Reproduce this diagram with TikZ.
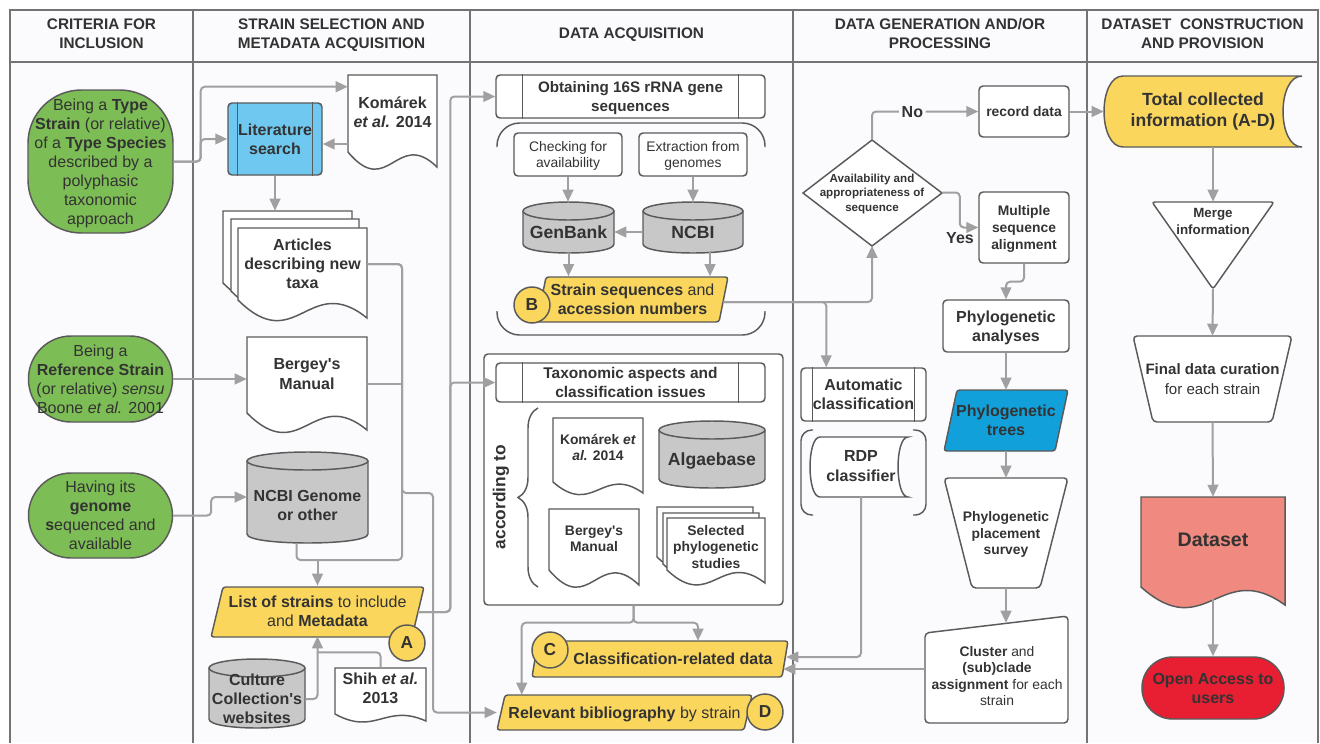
\documentclass[tikz,border=0pt]{standalone}
\usepackage{fontspec}
\setmainfont{Liberation Sans}
\usetikzlibrary{arrows.meta,calc,decorations.pathreplacing}

\definecolor{ink}{RGB}{51,51,51}
\definecolor{edge}{RGB}{90,90,90}
\definecolor{wire}{RGB}{160,160,160}
\definecolor{paper}{RGB}{251,251,253}
\definecolor{frameline}{RGB}{115,115,115}
\definecolor{critgreen}{RGB}{125,189,85}
\definecolor{note}{RGB}{250,214,92}
\definecolor{search}{RGB}{110,200,240}
\definecolor{treeblue}{RGB}{18,160,218}
\definecolor{dbgray}{RGB}{200,200,200}
\definecolor{dsetred}{RGB}{240,137,127}
\definecolor{openred}{RGB}{232,30,50}

% page with a wavy foot: top left (#2,#3), bottom right (#4,#5), wave depth #6
\newcommand{\docshape}[6][white]{%
  \draw[shapeline,fill=#1] (#2,#3) -- (#4,#3) -- (#4,#5)
    .. controls ({#2+0.55*(#4-#2)},{#5-2.6*#6}) and ({#2+0.45*(#4-#2)},{#5+2.2*#6}) .. (#2,{#5-#6}) -- cycle;}
% can: top left (#2,#3), bottom right (#4,#5)
\newcommand{\cylshape}[5][dbgray]{%
  \draw[shapeline,fill=#1] (#2,{#3+9}) -- (#2,{#5-9}) .. controls (#2,{#5+3}) and (#4,{#5+3}) .. (#4,{#5-9}) -- (#4,{#3+9});
  \draw[shapeline,fill=#1] ({(#2+#4)/2},{#3+9}) ellipse [x radius={(#4-#2)/2}, y radius=9];}
% slanted box: left (#2), top (#3), right (#4), bottom (#5), slant #6
\newcommand{\parashape}[6][note]{%
  \draw[shapeline,fill=#1,rounded corners=2pt] ({#2+#6},#3) -- (#4,#3) -- ({#4-#6},#5) -- (#2,#5) -- cycle;}

\begin{document}
\begin{tikzpicture}[x=0.75pt,y=0.75pt,yscale=-1,xscale=1,
  fnt/.style 2 args={font=\bfseries\fontsize{#1}{#2}\selectfont},
  plainfnt/.style 2 args={font=\fontsize{#1}{#2}\selectfont},
  sz/.style 2 args={minimum width=#1*0.75pt, minimum height=#2*0.75pt},
  lbl/.style={inner sep=0pt, text depth=0pt, align=center, text=ink, fnt={12}{14.3}},
  hd/.style={lbl, fnt={11.5}{14.3}},
  shapeline/.style={draw=edge, line width=1.1pt},
  box/.style={shapeline, fill=white, rounded corners=3pt},
  critbox/.style={shapeline, fill=critgreen},
  circ/.style={circle, shapeline, fill=note, minimum size=27pt, inner sep=0pt, text=ink, fnt={13}{15}},
  conn/.style={draw=wire, line width=1.5pt, rounded corners=3pt},
  arr/.style={conn, -{Triangle[length=9pt,width=8pt]}}]
\useasboundingbox (0,0) rectangle (1320,743);

%Swimlanes
\fill[paper] (10,10) rectangle (1318,743);
\draw[frameline, line width=1.1pt] (10,743) -- (10,10) -- (1318,10) -- (1318,743);
\draw[frameline, line width=1.1pt] (10,62) -- (1318,62);
\foreach \x in {193,470,793,1087} \draw[frameline, line width=1.1pt] (\x,10) -- (\x,743);

% Text Node
\node[hd] (hcrit) at (101.5,33.5) {CRITERIA FOR\\INCLUSION};
\node[hd] (hstrain) at (331.5,33.5) {STRAIN SELECTION AND\\METADATA ACQUISITION};
\node[hd] (hacq) at (631.5,33.5) {DATA ACQUISITION};
\node[hd] (hgen) at (940,33.5) {DATA GENERATION AND/OR\\PROCESSING};
\node[hd] (hset) at (1202.5,33.5) {DATASET\ \ CONSTRUCTION\\AND PROVISION};

%Criteria
\node[lbl, plainfnt={12}{14.3}, critbox, rounded corners=40pt, sz={145}{143}] (crit1) at (100.5,161.5)
  {Being a \textbf{Type}\\\textbf{Strain} (or relative)\\of a \textbf{Type Species}\\described by a\\polyphasic\\taxonomic\\approach};
\node[lbl, plainfnt={12}{14.3}, critbox, rounded corners=32pt, sz={144}{86}] (crit2) at (100.5,379)
  {Being a\\\textbf{Reference Strain}\\(or relative) \textit{sensu}\\Boone \textit{et al.} 2001};
\node[lbl, plainfnt={12}{14.3}, critbox, rounded corners=32pt, sz={144}{85}] (crit3) at (100.5,515.5)
  {Having its\\\textbf{genome}\\\textbf{s}equenced and\\available};

%Strain selection
\node[lbl, box, fill=search, sz={94}{72}] (lit) at (275,139) {Literature\\search};
\docshape{348}{75}{437}{167}{15}
\node[lbl, sz={89}{74}] (komarek) at (392.5,112) {Komárek\\\textit{et al.} 2014};
%Shape: Multiple documents
\docshape{223}{211}{352}{301}{18}
\docshape{231}{219}{359}{309}{18}
\docshape{238}{228}{367}{318}{18}
\node[lbl, sz={129}{72}] (articles) at (302.5,264) {Articles\\describing new\\taxa};
\docshape{247}{337}{367}{430}{17}
\node[lbl, sz={120}{74}] (bergey) at (307,374) {Bergey\textquotesingle s\\Manual};
\cylshape{247}{452}{368}{543}
\node[lbl, sz={121}{76}] (ncbig) at (307.5,505) {NCBI Genome\\or other};
\parashape{211}{587}{424}{637}{12}
\node[lbl, plainfnt={12}{14.3}, sz={213}{50}] (list) at (317.5,611) {\textbf{List of strains} to include\\and \textbf{Metadata}};
\node[circ] (circA) at (407,643) {A};
\cylshape{209}{659}{305}{728}
\node[lbl, sz={96}{58}] (culture) at (257,699) {Culture\\Collection\textquotesingle s\\websites};
\docshape{335}{668}{426}{721}{7}
\node[lbl, sz={91}{40}] (shih) at (380.5,688) {Shih \textit{et al.}\\2013};

%Data acquisition
\node[lbl, box, fnt={11.4}{14.2}, sz={269}{43}] (obtain) at (630.5,96.5) {Obtaining 16S rRNA gene\\sequences};
\draw[shapeline, rounded corners=17pt] (497,147) -- (497,123) -- (765,123) -- (765,147);
\draw[shapeline, rounded corners=17pt] (497,311) -- (497,335) -- (765,335) -- (765,311);
\node[lbl, box, plainfnt={10.4}{12.2}, sz={108}{43}] (check) at (568,154.5) {Checking for\\availability};
\node[lbl, box, plainfnt={10.4}{12.2}, sz={108}{43}] (extract) at (693,154.5) {Extraction from\\genomes};
\cylshape{523}{202}{614}{253}
\node[lbl, fnt={13.2}{15.7}, sz={91}{42}] (genbank) at (568.5,232) {GenBank};
\cylshape{643}{202}{743}{253}
\node[lbl, fnt={13.2}{15.7}, sz={100}{42}] (ncbi) at (693,232) {NCBI};
\parashape{537}{277}{728}{322}{9}
\node[lbl, plainfnt={12}{14.3}, sz={191}{45}] (strain) at (632.5,299) {\textbf{Strain sequences} and\\\textbf{accession numbers}};
\node[circ] (circB) at (532,305) {B};

\node[box, sz={299}{251}] (taxgroup) at (633.5,479.5) {};
\node[lbl, box, fnt={11.6}{14.2}, sz={269}{39}] (taxo) at (630.5,382.5) {Taxonomic aspects and\\classification issues};
\draw[shapeline, decorate, decoration={brace, amplitude=15pt}] (538,587) -- (538,408);
\node[lbl, fnt={13}{15}, rotate=90] (accord) at (499,497) {according to};
\docshape{553}{418}{643}{493}{11}
\node[lbl, fnt={10.4}{12.4}, sz={90}{59}] (komarek2) at (598,447.5) {Komárek \textit{et}\\\textit{al.} 2014};
\cylshape{659}{421}{765}{488}
\node[lbl, fnt={13.2}{15.7}, sz={106}{58}] (algae) at (712,459) {Algaebase};
\docshape{549}{509}{639}{585}{15}
\node[lbl, fnt={10.4}{12.4}, sz={90}{59}] (bergey2) at (594,538.5) {Bergey\textquotesingle s\\Manual};
\docshape{657}{507}{753}{570}{13}
\docshape{663}{513}{759}{577}{13}
\docshape{667}{518}{765}{583}{13}
\node[lbl, fnt={10.4}{12.4}, sz={98}{57}] (selected) at (716,546.5) {Selected\\phylogenetic\\studies};

\parashape{532}{641}{788}{677}{6}
\node[lbl, sz={230}{36}] (classif) at (673,659) {Classification-related data};
\node[circ] (circC) at (550,650) {C};
\parashape{497}{695}{752}{730}{8}
\node[lbl, plainfnt={12}{14.3}, sz={255}{35}] (relbib) at (624.5,712.5) {\textbf{Relevant bibliography} by strain};
\node[circ] (circD) at (765,712) {D};

%Data generation
\draw[shapeline, fill=white] (803,193) -- (872,140) -- (942,193) -- (872,246) -- cycle;
\node[lbl, fnt={8.7}{10.9}, sz={139}{106}] (avail) at (872,192.5) {Availability and\\appropriateness of\\sequence};
\node[lbl, box, fnt={10.4}{12.4}, sz={90}{51}] (record) at (1024,111.5) {record data};
\node[lbl, box, fnt={10.4}{12.4}, sz={90}{71}] (msa) at (1024,227.5) {Multiple\\sequence\\alignment};
\node[lbl, box, sz={126}{52}] (phylo) at (1006,326) {Phylogenetic\\analyses};
\parashape[treeblue]{944}{390}{1068}{451}{13}
\node[lbl, sz={124}{61}] (trees) at (1006,420.5) {Phylogenetic\\trees};
\draw[shapeline, fill=white, rounded corners=3pt] (944,478) -- (1068,478) -- (1040,588) -- (972,588) -- cycle;
\node[lbl, fnt={10.4}{12.4}, sz={124}{110}] (place) at (1006,533) {Phylogenetic\\placement\\survey};
\draw[shapeline, fill=white, rounded corners=3pt] (925,633) -- (1068,616) -- (1068,723) -- (925,723) -- cycle;
\node[lbl, plainfnt={10.4}{12.4}, sz={143}{94}] (cluster) at (997,676) {\textbf{Cluster} and\\\textbf{(sub)clade}\\\textbf{assignment} for each\\strain};
\node[lbl, box, sz={125}{53}] (auto) at (863.5,394.5) {Automatic\\classification};
\draw[shapeline, rounded corners=8pt] (813,430) -- (801,430) -- (801,515) -- (813,515);
\draw[shapeline, rounded corners=8pt] (913,430) -- (926,430) -- (926,515) -- (913,515);
%Shape: Stored data
\draw[shapeline, fill=white] (820,437) -- (908,437) .. controls (894.7,437) and (894.7,497) .. (908,497) -- (820,497) .. controls (806.7,497) and (806.7,437) .. cycle;
\node[lbl, sz={98}{60}] (rdp) at (861,466) {RDP\\classifier};

%Dataset construction
\draw[shapeline, fill=note] (1123,76) -- (1302,76) .. controls (1276.7,76) and (1276.7,147) .. (1302,147) -- (1123,147) .. controls (1097.7,147) and (1097.7,76) .. cycle;
\node[lbl, fnt={13.2}{15.8}, sz={198}{75}] (total) at (1203,109.5) {Total collected\\information (A-D)};
\draw[shapeline, fill=white, rounded corners=2pt] (1152,202) -- (1274,202) -- (1213,289) -- cycle;
\node[lbl, fnt={10}{12.4}, sz={122}{39}] (merge) at (1213,221.5) {Merge\\information};
\draw[shapeline, fill=white, rounded corners=3pt] (1133,336) -- (1292,336) -- (1272,422) -- (1153,422) -- cycle;
\node[lbl, plainfnt={11.3}{15}, sz={159}{86}] (final) at (1212.5,379) {\textbf{Final data curation}\\for each strain};
\docshape[dsetred]{1141}{497}{1285}{605}{18}
\node[lbl, fnt={14.7}{17}, sz={144}{86}] (dataset) at (1213,540) {Dataset};
\node[lbl, shapeline, fill=openred, rounded corners=23pt, sz={142}{62}] (open) at (1213,688) {Open Access to\\users};

% predefined process bars
\foreach \n/\d in {lit/10,obtain/27,taxo/27,auto/12}
  \draw[shapeline] ($(\n.north west)+(\d,0)$) -- ($(\n.south west)+(\d,0)$)
    ($(\n.north east)+(-\d,0)$) -- ($(\n.south east)+(-\d,0)$);

%Connectors
\draw[arr] (crit1.east) -- ++(27,0) |- (lit.west);
\draw[arr] (crit1.east) -- ++(27,0) |- ($(komarek.north west)+(0,12)$);
\draw[arr] ($(komarek.west)+(0,32)$) -- ($(lit.east)+(0,5)$);
\draw[arr] (lit.south) -- ($(lit.south |- articles.north)+(0,-17)$);
\draw[arr] (crit2.east) -- (crit2.east -| bergey.west);
\draw[arr] (crit3.east) -- ++(38,0) |- ($(ncbig.west)+(0,-8)$);
\draw[conn] (articles.east) -| (402,560) -| ($(ncbig.south)+(-11,0)$);
\draw[conn] ($(bergey.east)+(0,10)$) -- ++(35,0);
\draw[arr] (list.north |- 0,560) -- (list.north);
\draw[arr] (articles.east) -| (402,493) -- (433,493) |- (relbib.west);
\draw[arr] (culture.east) -| (list.south);
\draw[conn] (shih.north) |- ($(list.south)+(0,16)$);
\draw[arr] ($(list.east)+(-6,1)$) -- ++(32,0) |- (obtain.west);
\draw[arr] ($(list.east)+(-6,1)$) -- ++(32,0) |- (taxo.west);

\draw[arr] (check.south) -- ($(check.south |- genbank.north)+(0,-9)$);
\draw[arr] (extract.south) -- ($(extract.south |- ncbi.north)+(0,-9)$);
\draw[arr] (ncbi.west) -- (genbank.east);
\draw[arr] (genbank.south) -- (genbank.south |- strain.north);
\draw[arr] ($(ncbi.south)+(17,-2)$) -- ($(ncbi.south |- strain.north)+(17,0)$);
\draw[arr] ($(strain.east)+(-5,3)$) -| (avail.south);
\draw[arr] ($(strain.east)+(-5,3)$) -| ($(auto.north west)+(26,0)$);
\draw[arr] (taxgroup.south) -- ++(0,17) -| ($(relbib.north west)+(25,0)$);
\draw[arr] (taxgroup.south) -- ++(0,17) -| ($(classif.north)+(25,0)$);

\draw[arr] (avail.north) |- (record.west) node[lbl, pos=0.69, fill=paper, inner xsep=2pt] (no) {No};
\draw[arr] (avail.east) -- ++(18,0) |- (msa.west);
\node[lbl] (yes) at (960,238) {Yes};
\draw[arr] (msa.south) -- ++(0,18) -| (phylo.north);
\draw[arr] (phylo.south) -- (trees.north);
\draw[arr] (trees.south) -- (place.north);
\draw[arr] (place.south) -- ($(place.south |- cluster.north)+(0,-6)$);
\draw[arr] (cluster.west |- 0,669) -- ($(classif.east)+(-5,10)$);
\draw[arr] (rdp.south) |- ($(classif.east)+(-2,-2)$);

\draw[arr] (record.east) -- (record.east -| total.west);
\draw[arr] (merge.north |- total.south) -- (merge.north);
\draw[arr] ($(merge.north)+(0,87)$) -- (final.north);
\draw[arr] (final.south) -- (dataset.north);
\draw[arr] ($(dataset.south)+(0,16)$) -- (open.north);

\end{tikzpicture}
\end{document}
